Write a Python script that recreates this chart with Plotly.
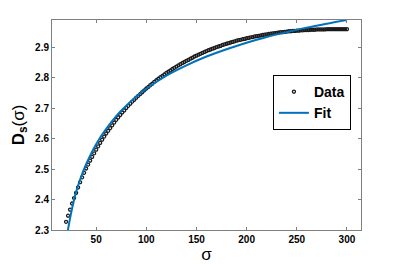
import plotly.graph_objects as go

# Data series (sigma step 2 from 20 to 300)
sigma_data = list(range(20, 301, 2))
ds_data = [
    2.327, 2.347, 2.367, 2.387, 2.405, 2.422, 2.440, 2.457, 2.473, 2.488, 2.502,
    2.515, 2.528, 2.540, 2.552, 2.564, 2.575, 2.586, 2.597, 2.607, 2.617,
    2.626, 2.635, 2.644, 2.653, 2.662, 2.670, 2.678, 2.686, 2.693, 2.701,
    2.708, 2.715, 2.722, 2.728, 2.735, 2.741, 2.747, 2.753, 2.759, 2.765,
    2.770, 2.776, 2.781, 2.787, 2.792, 2.797, 2.802, 2.806, 2.811, 2.816,
    2.820, 2.824, 2.829, 2.833, 2.837, 2.841, 2.845, 2.849, 2.852, 2.856,
    2.859, 2.863, 2.866, 2.870, 2.873, 2.876, 2.879, 2.882, 2.885, 2.888,
    2.891, 2.893, 2.896, 2.898, 2.901, 2.903, 2.905, 2.908, 2.910, 2.912,
    2.914, 2.916, 2.918, 2.920, 2.922, 2.924, 2.925, 2.927, 2.928, 2.930,
    2.931, 2.933, 2.934, 2.936, 2.937, 2.938, 2.939, 2.941, 2.942, 2.943,
    2.944, 2.945, 2.946, 2.947, 2.948, 2.949, 2.950, 2.950, 2.951, 2.952,
    2.953, 2.953, 2.954, 2.954, 2.955, 2.955, 2.956, 2.956, 2.957, 2.957,
    2.957, 2.958, 2.958, 2.958, 2.959, 2.959, 2.959, 2.959, 2.959, 2.960,
    2.960, 2.960, 2.960, 2.960, 2.960, 2.960, 2.960, 2.960, 2.960, 2.960,
]

# Fit curve
sigma_fit = [20, 25, 30, 35, 40, 50, 60, 70, 80, 90, 100, 120, 140, 160, 180,
             200, 220, 240, 260, 280, 300]
ds_fit = [2.264, 2.355, 2.425, 2.475, 2.516, 2.582, 2.632, 2.674, 2.708, 2.738,
          2.764, 2.807, 2.841, 2.870, 2.894, 2.915, 2.934, 2.950, 2.965, 2.978,
          2.990]

x_ticks = [50, 100, 150, 200, 250, 300]
y_ticks = [2.3, 2.4, 2.5, 2.6, 2.7, 2.8, 2.9]

FONT = "Liberation Sans, Arial, Helvetica, sans-serif"
AXC = "#7f7f7f"

fig = go.Figure()
fig.add_trace(go.Scatter(
    x=sigma_data, y=ds_data, mode="markers", name="Data",
    marker=dict(symbol="circle-open", size=3, color="#1a1a1a",
                line=dict(width=1.3, color="#1a1a1a")),
))
fig.add_trace(go.Scatter(
    x=sigma_fit, y=ds_fit, mode="lines", name="Fit",
    line=dict(color="#0072BD", width=2, shape="spline"),
))

axis_common = dict(
    showline=True, linecolor=AXC, linewidth=1, mirror="ticks",
    ticks="inside", ticklen=3, tickcolor=AXC, showgrid=False, zeroline=False,
    automargin=False,
    tickfont=dict(family=FONT, size=10, color="black", weight="bold"),
)

# page body has an 8px margin, so the figure is sized/offset to compensate
fig.update_layout(
    width=391, height=256,
    margin=dict(l=44, r=38, t=12, b=34),
    paper_bgcolor="white", plot_bgcolor="white",
    font=dict(family=FONT, color="black"),
    xaxis=dict(range=[6, 314], tickvals=x_ticks,
               ticktext=[str(v) for v in x_ticks],
               title=dict(text="σ", font=dict(family=FONT, size=17), standoff=4),
               **axis_common),
    yaxis=dict(range=[2.3, 2.99], tickvals=y_ticks,
               ticktext=[f"{v:.1f}" for v in y_ticks],
               title=dict(text="<b>D<sub>s</sub></b>(σ)",
                          font=dict(family=FONT, size=17), standoff=6),
               **axis_common),
    legend=dict(x=0.715, y=0.738, xanchor="left", yanchor="top",
                bgcolor="white", bordercolor="black", borderwidth=1,
                font=dict(family=FONT, size=14, color="black", weight="bold"),
                itemwidth=30, tracegroupgap=0),
    showlegend=True,
)

fig.write_html("out.html")
